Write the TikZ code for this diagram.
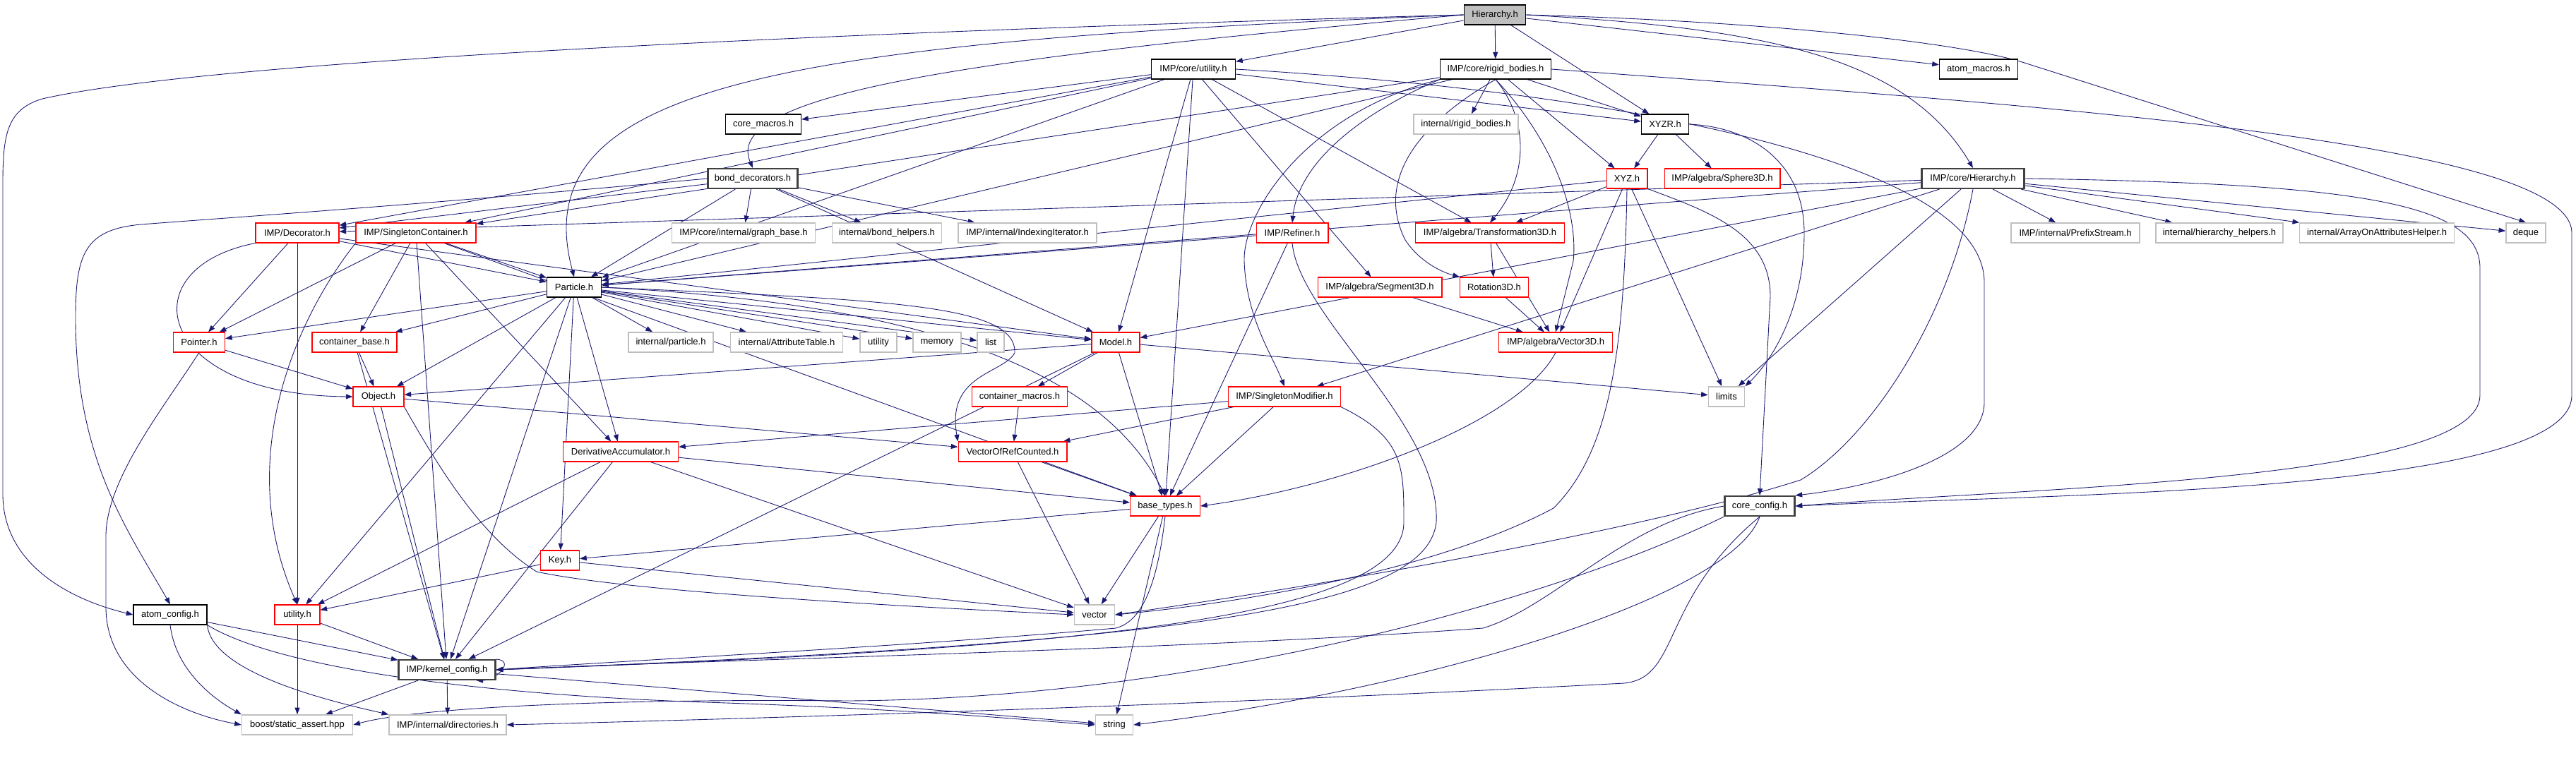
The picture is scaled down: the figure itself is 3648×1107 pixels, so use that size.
\documentclass[tikz,border=0pt]{standalone}
\usepackage{fontspec}
\setsansfont{Liberation Sans}
\usetikzlibrary{arrows.meta,positioning,backgrounds}
\definecolor{edgeblue}{RGB}{25,25,112}
\definecolor{extgray}{RGB}{191,191,191}

\begin{document}
\begin{tikzpicture}[x=0.02cm,y=-0.02cm,
    hdr/.style={draw,rectangle,fill=white,minimum height=0.56cm,inner sep=2pt,
      font=\sffamily\fontsize{7.4}{8}\selectfont},
    doc/.style={hdr,draw=black,line width=0.7pt},
    trunc/.style={hdr,draw=red,line width=0.6pt},
    ext/.style={hdr,draw=extgray,line width=0.9pt},
    heavy/.style={hdr,draw=black!75,line width=1.2pt},
    root/.style={hdr,draw=black,fill=extgray,line width=1pt},
    dep/.style={draw=edgeblue,line width=0.5pt,-{Triangle[length=5.5pt,width=4pt]}}]
  \useasboundingbox (0,0) rectangle (3648,1107);

  % Draw the header files, row by row
  \node[root,minimum width=1.74cm] (hier) at (2117,21) {Hierarchy.h};
  \node[doc,minimum width=2.38cm] (cutil) at (1690,98) {IMP/core/utility.h};
  \node[doc,minimum width=3.14cm] (rigid) at (2118,98) {IMP/core/rigid\_bodies.h};
  \node[doc,minimum width=2.22cm] (amacros) at (2802,98) {atom\_macros.h};
  \node[doc,minimum width=2.14cm] (cmacros) at (1081,176) {core\_macros.h};
  \node[ext,minimum width=2.96cm] (irigid) at (2076,176) {internal/rigid\_bodies.h};
  \node[doc,minimum width=1.34cm] (xyzr) at (2358,176) {XYZR.h};
  \node[heavy,minimum width=2.54cm] (bond) at (1066,253) {bond\_decorators.h};
  \node[trunc,minimum width=1.16cm] (xyz) at (2304,253) {XYZ.h};
  \node[trunc,minimum width=3.28cm] (sphere) at (2439,253) {IMP/algebra/Sphere3D.h};
  \node[heavy,minimum width=2.90cm] (chier) at (2794,253) {IMP/core/Hierarchy.h};
  \node[trunc,minimum width=2.36cm] (deco) at (421,330) {IMP/Decorator.h};
  \node[trunc,minimum width=3.40cm] (scont) at (589,330) {IMP/SingletonContainer.h};
  \node[ext,minimum width=4.06cm] (graphb) at (1053,330) {IMP/core/internal/graph\_base.h};
  \node[ext,minimum width=3.10cm] (bondh) at (1256,330) {internal/bond\_helpers.h};
  \node[ext,minimum width=3.92cm] (iiter) at (1455,330) {IMP/internal/IndexingIterator.h};
  \node[trunc,minimum width=2.04cm] (refiner) at (1830,330) {IMP/Refiner.h};
  \node[trunc,minimum width=4.22cm] (trans) at (2110,330) {IMP/algebra/Transformation3D.h};
  \node[ext,minimum width=3.64cm] (prefix) at (2939,330) {IMP/internal/PrefixStream.h};
  \node[ext,minimum width=3.60cm] (hhelp) at (3143,330) {internal/hierarchy\_helpers.h};
  \node[ext,minimum width=4.38cm] (arrayh) at (3366,330) {internal/ArrayOnAttributesHelper.h};
  \node[ext,minimum width=1.12cm] (deque) at (3577,330) {deque};
  \node[doc,minimum width=1.54cm] (particle) at (813,407) {Particle.h};
  \node[trunc,minimum width=3.52cm] (seg) at (1954,407) {IMP/algebra/Segment3D.h};
  \node[trunc,minimum width=1.94cm] (rot) at (2116,407) {Rotation3D.h};
  \node[trunc,minimum width=1.46cm] (pointer) at (282,485) {Pointer.h};
  \node[trunc,minimum width=2.40cm] (cbase) at (502,485) {container\_base.h};
  \node[ext,minimum width=2.40cm] (iparticle) at (950,485) {internal/particle.h};
  \node[ext,minimum width=3.18cm] (iattr) at (1114,485) {internal/AttributeTable.h};
  \node[ext,minimum width=1.04cm] (utilstd) at (1244,485) {utility};
  \node[ext,minimum width=1.36cm] (memory) at (1327,485) {memory};
  \node[ext,minimum width=0.76cm] (list) at (1403,485) {list};
  \node[trunc,minimum width=1.36cm] (model) at (1580,485) {Model.h};
  \node[trunc,minimum width=3.22cm] (vec3) at (2203,485) {IMP/algebra/Vector3D.h};
  \node[trunc,minimum width=1.44cm] (object) at (536,562) {Object.h};
  \node[trunc,minimum width=2.70cm] (cmac) at (1444,562) {container\_macros.h};
  \node[trunc,minimum width=3.18cm] (smod) at (1819,562) {IMP/SingletonModifier.h};
  \node[ext,minimum width=1.02cm] (limits) at (2445,562) {limits};
  \node[trunc,minimum width=3.26cm] (deriv) at (879,640) {DerivativeAccumulator.h};
  \node[trunc,minimum width=3.08cm] (vorc) at (1434,640) {VectorOfRefCounted.h};
  \node[trunc,minimum width=1.98cm] (btypes) at (1650,717) {base\_types.h};
  \node[heavy,minimum width=1.98cm] (cconfig) at (2492,717) {core\_config.h};
  \node[trunc,minimum width=1.10cm] (key) at (793,794) {Key.h};
  \node[doc,minimum width=2.08cm] (aconfig) at (241,871) {atom\_config.h};
  \node[trunc,minimum width=1.28cm] (utilh) at (421,871) {utility.h};
  \node[ext,minimum width=1.14cm] (vector) at (1550,871) {vector};
  \node[heavy,minimum width=2.74cm] (kconfig) at (633,949) {IMP/kernel\_config.h};
  \node[ext,minimum width=3.14cm] (boost) at (421,1027) {boost/static\_assert.hpp};
  \node[ext,minimum width=3.32cm] (dirs) at (634,1027) {IMP/internal/directories.h};
  \node[ext,minimum width=1.06cm] (string) at (1578,1027) {string};

  \begin{scope}[on background layer]
  % Straight includes
  \foreach \s/\t in {hier/amacros,hier/cutil,hier/rigid,hier/xyzr,
      cutil/cmacros,cutil/particle,cutil/model,cutil/btypes,cutil/seg,cutil/trans,cutil/xyzr,cutil/deco,cutil/scont,
      rigid/irigid,rigid/xyzr,rigid/xyz,rigid/scont,rigid/particle,
      xyzr/xyz,xyzr/sphere,xyz/particle,xyz/trans,xyz/vec3,xyz/limits,
      chier/prefix,chier/hhelp,chier/arrayh,chier/deque,chier/deco,chier/particle,chier/model,chier/smod,chier/limits,
      bond/deco,bond/particle,bond/graphb,bond/bondh,bond/iiter,bond/model,
      deco/particle,deco/pointer,deco/model,deco/utilh,
      scont/particle,scont/pointer,scont/cbase,scont/deriv,scont/kconfig,scont/btypes,
      refiner/particle,refiner/btypes,
      particle/pointer,particle/cbase,particle/object,particle/iparticle,particle/iattr,particle/utilstd,
      particle/memory,particle/list,particle/model,particle/deriv,particle/key,particle/kconfig,particle/utilh,
      trans/rot,trans/vec3,seg/vec3,rot/vec3,
      model/object,model/cmac,model/btypes,model/kconfig,model/limits,
      pointer/object,cbase/object,cbase/kconfig,object/kconfig,object/vorc,cmac/vorc,
      smod/deriv,smod/vorc,smod/btypes,
      deriv/utilh,deriv/kconfig,deriv/btypes,deriv/vector,
      vorc/btypes,vorc/vector,btypes/key,btypes/vector,btypes/string,key/utilh,key/vector,
      aconfig/kconfig,utilh/kconfig,utilh/boost,kconfig/boost,kconfig/dirs,kconfig/string}
    \draw[dep] (\s) -- (\t);

  % Long includes from the top file
  \draw[dep] (hier.west) .. controls (1200,45) and (300,85) .. (60,140)
    .. controls (10,155) and (4,190) .. (4,260) -- (4,700)
    .. controls (4,800) and (100,850) .. (aconfig.west);
  \draw[dep] (hier.east) .. controls (2500,30) and (2780,60) .. (2870,90) -- (deque.north);
  \draw[dep] (hier.east) .. controls (2500,40) and (2700,80) .. (chier.north);
  \draw[dep] (hier.west) .. controls (1400,80) and (1020,130) .. (bond.north);
  \draw[dep] (hier.west) .. controls (1100,60) and (740,120) .. (particle.north);

  % Fan of includes below rigid_bodies.h
  \draw[dep] (rigid.south) .. controls (2165,170) and (2165,250) .. (trans.north);
  \draw[dep] (rigid.south) .. controls (2200,200) and (2235,300) .. (2228,370) -- (vec3.north);
  \draw[dep] (rigid.south) .. controls (2000,180) and (1950,260) .. (1990,340)
    .. controls (2010,370) and (2040,385) .. (rot.north west);
  \draw[dep] (rigid.south west) .. controls (1950,150) and (1840,220) .. (refiner.north);
  \draw[dep] (rigid.south west) .. controls (1850,160) and (1760,300) .. (1762,370)
    .. controls (1765,450) and (1800,500) .. (smod.north);

  % Long includes of core_config.h
  \draw[dep] (cutil.east) .. controls (2300,130) and (2810,230) .. (2810,400) -- (2810,570)
    .. controls (2810,650) and (2650,690) .. (cconfig.north east);
  \draw[dep] (rigid.east) .. controls (2900,150) and (3642,200) .. (3642,330) -- (3642,560)
    .. controls (3642,700) and (2900,700) .. (cconfig.east);
  \draw[dep] (chier.east) .. controls (3350,260) and (3512,290) .. (3512,380) -- (3512,560)
    .. controls (3512,680) and (2900,690) .. (cconfig.east);
  \draw[dep] (xyz.south east) .. controls (2420,300) and (2507,330) .. (2507,420) -- (cconfig.north);
  \draw[dep] (xyzr.east) .. controls (2480,180) and (2555,230) .. (2555,330)
    .. controls (2555,450) and (2500,520) .. (limits.north east);

  % Curved includes down the middle
  \draw[dep] (particle.east) .. controls (1250,425) and (1440,430) .. (1437,500)
    .. controls (1420,530) and (1340,530) .. (vorc.north west);
  \draw[dep] (particle.east) .. controls (1300,430) and (1560,520) .. (btypes.north);
  \draw[dep] (chier.south) .. controls (2760,450) and (2650,620) .. (2550,680)
    .. controls (2300,760) and (1800,840) .. (vector.east);
  \draw[dep] (xyz.south) .. controls (2300,500) and (2280,640) .. (2200,720)
    .. controls (2050,800) and (1800,850) .. (vector.east);
  \draw[dep] (vec3.south) .. controls (2150,600) and (1900,690) .. (btypes.east);
  \draw[dep] (refiner.south) .. controls (1840,450) and (2040,600) .. (2034,740)
    .. controls (2020,860) and (1700,910) .. (kconfig.east);
  \draw[dep] (smod.south east) .. controls (1988,620) and (1988,660) .. (1988,740)
    .. controls (1988,880) and (1500,920) .. (kconfig.east);
  \draw[dep] (btypes.south) .. controls (1640,820) and (1620,880) .. (1580,890)
    .. controls (1300,915) and (900,935) .. (kconfig.east);
  \draw[dep] (cconfig.west) .. controls (2300,740) and (2200,860) .. (2100,890)
    .. controls (1700,920) and (1000,935) .. (kconfig.east);
  \draw[dep] (object.south east) .. controls (620,660) and (680,760) .. (760,810)
    .. controls (900,840) and (1300,860) .. (vector.west);

  % Includes on the left side
  \draw[dep] (bond.west) .. controls (600,290) and (300,310) .. (200,318)
    .. controls (120,325) and (107,360) .. (107,450)
    .. controls (107,650) and (180,750) .. (aconfig.north);
  \draw[dep] (deco.south west) .. controls (180,380) and (220,560) .. (object.west);
  \draw[dep] (scont.south west) .. controls (420,450) and (330,650) .. (utilh.north);
  \draw[dep] (pointer.south) .. controls (230,580) and (150,680) .. (150,760) -- (150,860)
    .. controls (150,960) and (250,1010) .. (boost.west);

  % Bottom row
  \draw[dep] (aconfig.south) .. controls (250,960) and (320,1000) .. (boost.north west);
  \draw[dep] (aconfig.south east) .. controls (300,950) and (450,990) .. (dirs.north west);
  \draw[dep] (aconfig.south east) .. controls (400,950) and (700,985) .. (1000,995)
    .. controls (1300,1005) and (1450,1020) .. (string.west);
  \draw[dep] (cconfig.south west) .. controls (2200,850) and (1700,990) .. (1200,993)
    .. controls (900,990) and (600,1000) .. (boost.east);
  \draw[dep] (cconfig.south) .. controls (2350,850) and (2380,960) .. (2300,968)
    .. controls (1700,1000) and (1000,1020) .. (dirs.east);
  \draw[dep] (cconfig.south) .. controls (2450,850) and (2000,980) .. (string.east);
  \draw[dep] (kconfig.north east) .. controls +(28,2) and +(28,0) .. (kconfig.-20);
  \end{scope}
\end{tikzpicture}
\end{document}
